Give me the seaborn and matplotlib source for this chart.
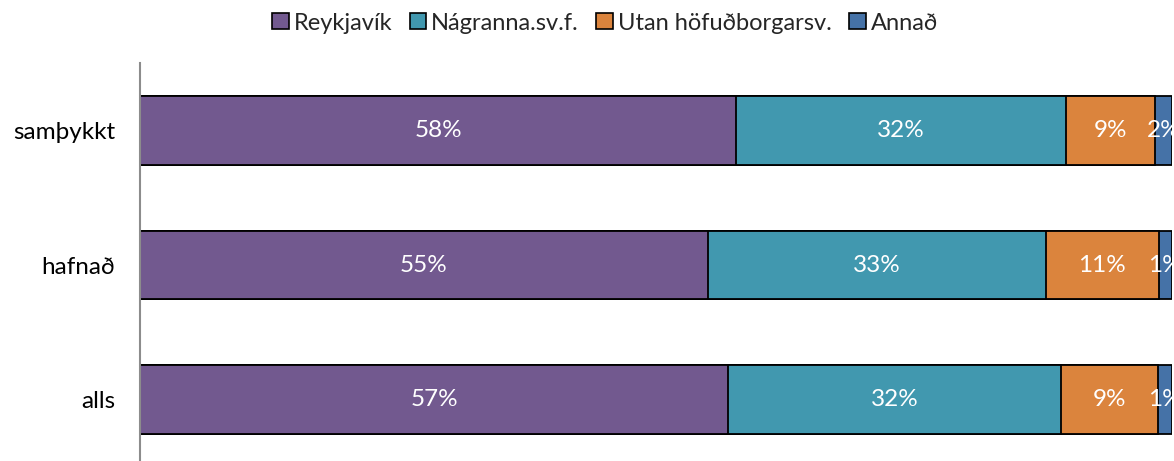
import numpy as np
import pandas as pd
import matplotlib
matplotlib.use("Agg")
import matplotlib.pyplot as plt
from matplotlib.patches import Patch
import seaborn as sns

categories = ["samþykkt", "hafnað", "alls"]
series = ["Reykjavík", "Nágranna.sv.f.", "Utan höfuðborgarsv.", "Annað"]
reykjavik = [57.8, 55.0, 57.0]
nagranna = [31.9, 32.8, 32.2]
utan = [8.7, 10.9, 9.4]
annad = [1.6, 1.3, 1.4]
colors = ["#72598F", "#4198AF", "#DB843D", "#4572A7"]

sns.set_theme(style="white")
plt.rcParams["font.family"] = ["Lato", "DejaVu Sans"]

vals = np.array([reykjavik, nagranna, utan, annad])  # series x category
cum = np.cumsum(vals, axis=0) / 100.0

fig = plt.figure(figsize=(11.74, 4.61), dpi=100)
ax = fig.add_axes([140 / 1174, 0.0, 1032 / 1174, (461 - 63) / 461])

# draw cumulative bars from the longest to the shortest so they stack visually
for i in range(len(series) - 1, -1, -1):
    df = pd.DataFrame({"cat": categories, "val": cum[i]})
    sns.barplot(data=df, x="val", y="cat", orient="h", color=colors[i],
                saturation=1, width=0.51, edgecolor="black", linewidth=1.3,
                ax=ax, order=categories)

for j in range(len(categories)):
    for i in range(len(series)):
        left = cum[i - 1][j] if i > 0 else 0.0
        center = left + vals[i][j] / 200.0
        ax.text(center, j, f"{round(vals[i][j]):.0f}%", ha="center", va="center",
                color="white", fontsize=17.5, clip_on=False)

ax.set_xlim(0, 1)
ax.set_ylim(2.455, -0.5)
ax.set_xlabel("")
ax.set_ylabel("")
ax.set_xticks([])
ax.tick_params(axis="y", length=0, pad=18, labelsize=17.5, labelcolor="black")
for s in ["top", "right", "bottom"]:
    ax.spines[s].set_visible(False)
ax.spines["left"].set_color("#8C8C8C")
ax.spines["left"].set_linewidth(1.5)

handles = [Patch(facecolor=c, edgecolor="black", linewidth=1.2) for c in colors]
fig.legend(handles, series, loc="center", bbox_to_anchor=(605 / 1174, 1 - 23 / 461),
           ncol=4, frameon=False, fontsize=17, handlelength=0.7, handleheight=0.7,
           handletextpad=0.2, columnspacing=0.75)

fig.savefig("out.png", dpi=100)
